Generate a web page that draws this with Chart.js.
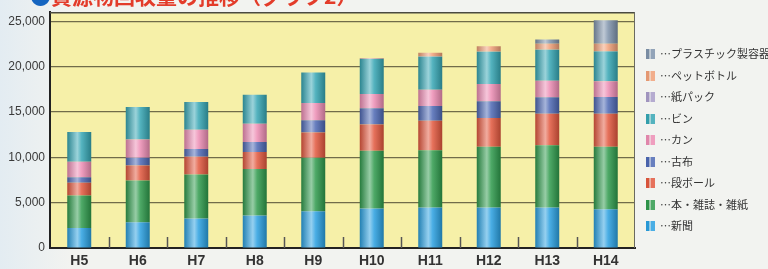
<!DOCTYPE html>
<html lang="ja">
<head>
<meta charset="UTF-8">
<title>資源物回収量の推移（グラフ2）</title>
<script src="https://cdn.jsdelivr.net/npm/chart.js"></script>
<style>
  html, body { margin: 0; padding: 0; }
  body {
    width: 768px; height: 269px; overflow: hidden; position: relative;
    background: linear-gradient(to right, #e3ecf2 0px, #f2f3f0 70px);
  }
  #wrap { position: absolute; left: 0; top: 0; width: 768px; height: 269px; }
  .title {
    position: absolute; left: 30px; top: -15px; z-index: 2;
    font-family: "Noto Sans CJK JP", sans-serif; font-weight: bold;
    font-size: 21px; line-height: 21px; color: #e33c2a; white-space: nowrap;
  }
  .title .dot { color: #1565c0; }
</style>
</head>
<body>
<div class="title"><span class="dot">●</span>資源物回収量の推移（グラフ2）</div>
<div id="wrap"><canvas id="chart" width="768" height="269"></canvas></div>

<script>
// 年度
const years = ['H5', 'H6', 'H7', 'H8', 'H9', 'H10', 'H11', 'H12', 'H13', 'H14'];

// 品目別回収量 (下から積み上げ順)
const shinbun   = [2200, 2850, 3250, 3580, 4050, 4350, 4460, 4460, 4460, 4280];
const hon       = [3600, 4600, 4850, 5140, 5910, 6370, 6330, 6700, 6880, 6880];
const danboru   = [1400, 1640, 1970, 1860, 2780, 2890, 3250, 3170, 3470, 3650];
const furuginu  = [600, 870, 840, 1100, 1350, 1790, 1610, 1860, 1810, 1850];
const kan       = [1700, 2010, 2120, 2020, 1910, 1590, 1800, 1900, 1830, 1720];
const bin       = [3300, 3580, 3060, 3200, 3350, 3860, 3640, 3540, 3400, 3300];
const kamipack  = [0, 0, 0, 0, 0, 50, 50, 50, 50, 50];
const petbottle = [0, 0, 0, 0, 0, 50, 380, 560, 630, 800];
const plastic   = [0, 0, 0, 0, 0, 0, 0, 0, 470, 2570];

const names = ['新聞', '本・雑誌・雑紙', '段ボール', '古布', 'カン', 'ビン', '紙パック', 'ペットボトル', 'プラスチック製容器包装'];
const series = [shinbun, hon, danboru, furuginu, kan, bin, kamipack, petbottle, plastic];
const colors = ['#2aa0e0', '#2f9a4c', '#e2583e', '#4d68b4', '#ec8db4', '#36a6b4', '#a89cc8', '#f0a078', '#7f93ab'];

const yTicks = [0, 5000, 10000, 15000, 20000, 25000];

const BAR_PCT = 0.41;

function shade(hex, f) {
  const n = parseInt(hex.slice(1), 16);
  let r = n >> 16, g = (n >> 8) & 255, b = n & 255;
  if (f >= 0) {
    r += (255 - r) * f; g += (255 - g) * f; b += (255 - b) * f;
  } else {
    r *= 1 + f; g *= 1 + f; b *= 1 + f;
  }
  return 'rgb(' + Math.round(r) + ',' + Math.round(g) + ',' + Math.round(b) + ')';
}

// 円柱っぽい横グラデーション
function barFill(base) {
  return (ctx) => {
    const chart = ctx.chart;
    const xs = chart.scales.x;
    if (!chart.chartArea || !xs || ctx.type !== 'data') return base;
    const cx = xs.getPixelForValue(ctx.dataIndex);
    const half = xs.width / years.length * BAR_PCT / 2;
    const g = chart.ctx.createLinearGradient(cx - half, 0, cx + half, 0);
    g.addColorStop(0, shade(base, -0.2));
    g.addColorStop(0.42, shade(base, 0.5));
    g.addColorStop(0.6, shade(base, 0.15));
    g.addColorStop(1, shade(base, -0.25));
    return g;
  };
}

// 凡例アイコン (2本の縦棒)
function legendIcon(base) {
  const c = document.createElement('canvas');
  c.width = 9; c.height = 10;
  const x = c.getContext('2d');
  x.fillStyle = shade(base, -0.05);
  x.fillRect(0, 0, 4, 10);
  x.fillStyle = shade(base, 0.15);
  x.fillRect(5, 0, 4, 10);
  return c;
}
const icons = colors.map(legendIcon);

const plotDecor = {
  id: 'plotDecor',
  beforeDraw(chart) {
    const a = chart.chartArea;
    const c = chart.ctx;
    c.save();
    c.fillStyle = '#f6f0a8';
    c.fillRect(a.left, a.top, a.right - a.left, a.bottom - a.top);
    c.restore();
  },
  beforeDatasetsDraw(chart) {
    const a = chart.chartArea;
    const xs = chart.scales.x;
    const c = chart.ctx;
    c.save();
    c.strokeStyle = '#555';
    c.lineWidth = 1.5;
    for (let i = 1; i < years.length; i++) {
      const x = Math.round((xs.getPixelForValue(i - 1) + xs.getPixelForValue(i)) / 2) + 0.5;
      c.beginPath();
      c.moveTo(x, a.bottom);
      c.lineTo(x, a.bottom - 11);
      c.stroke();
    }
    c.restore();
  },
  afterDatasetsDraw(chart) {
    const a = chart.chartArea;
    const c = chart.ctx;
    c.save();
    c.strokeStyle = '#4a4a40';
    c.lineWidth = 1.5;
    c.beginPath();
    c.moveTo(a.left, a.top + 0.5);
    c.lineTo(a.right, a.top + 0.5);
    c.stroke();
    c.strokeStyle = '#6a6a60';
    c.lineWidth = 1;
    c.beginPath();
    c.moveTo(a.right - 0.5, a.top);
    c.lineTo(a.right - 0.5, a.bottom);
    c.stroke();
    c.restore();
  }
};

const legendWidth = {
  id: 'legendWidth',
  beforeInit(chart) {
    const fit = chart.legend.fit;
    chart.legend.fit = function () {
      fit.call(this);
      this.width = 133;
    };
  }
};

new Chart(document.getElementById('chart'), {
  type: 'bar',
  data: {
    labels: years,
    datasets: series.map((d, i) => ({
      label: names[i],
      data: d,
      backgroundColor: barFill(colors[i]),
      borderWidth: 0,
      barPercentage: BAR_PCT,
      categoryPercentage: 1
    }))
  },
  options: {
    responsive: false,
    animation: false,
    events: [],
    layout: { padding: { top: 11, left: 0, right: 0, bottom: 0 } },
    plugins: {
      tooltip: { enabled: false },
      legend: {
        position: 'right',
        reverse: true,
        labels: {
          usePointStyle: true,
          boxWidth: 9,
          boxHeight: 10,
          padding: 10.5,
          color: '#333',
          font: { family: '"Noto Sans CJK JP", sans-serif', size: 11 },
          generateLabels() {
            return names.map((n, i) => ({
              text: '…' + n,
              pointStyle: icons[i],
              fillStyle: colors[i],
              strokeStyle: colors[i],
              lineWidth: 0,
              hidden: false,
              datasetIndex: i,
              fontColor: '#333'
            }));
          }
        }
      }
    },
    scales: {
      x: {
        stacked: true,
        grid: { display: false, drawTicks: false },
        border: { color: '#222', width: 2 },
        ticks: {
          color: '#333',
          padding: 5,
          font: { family: '"Liberation Sans", Arial, sans-serif', size: 14, weight: 'bold' }
        },
        afterFit(scale) { scale.height = 21; }
      },
      y: {
        stacked: true,
        min: 0,
        max: 26000,
        grid: { color: '#716c4a', lineWidth: 1.2, drawTicks: false },
        border: { color: '#222', width: 2 },
        ticks: {
          color: '#3a3a3a',
          padding: 5,
          font: { family: '"Liberation Sans", Arial, sans-serif', size: 12 },
          callback: (v) => v.toLocaleString('en-US')
        },
        afterBuildTicks(scale) {
          scale.ticks = yTicks.map(v => ({ value: v }));
        },
        afterFit(scale) { scale.width = 50; }
      }
    }
  },
  plugins: [plotDecor, legendWidth]
});
</script>
</body>
</html>
